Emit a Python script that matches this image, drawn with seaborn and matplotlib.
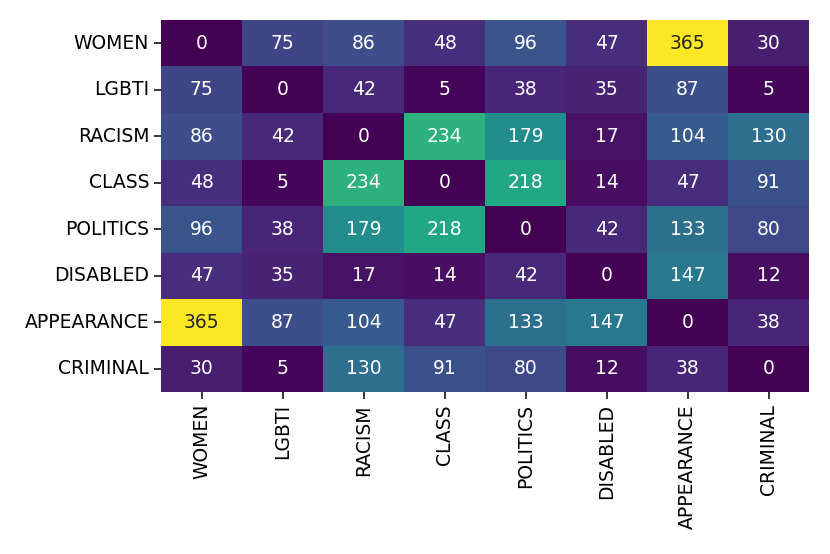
import matplotlib
matplotlib.use("Agg")
import matplotlib.pyplot as plt
import seaborn as sns
import numpy as np
import pandas as pd

categories = ["WOMEN", "LGBTI", "RACISM", "CLASS", "POLITICS", "DISABLED", "APPEARANCE", "CRIMINAL"]
women      = [0, 75, 86, 48, 96, 47, 365, 30]
lgbti      = [75, 0, 42, 5, 38, 35, 87, 5]
racism     = [86, 42, 0, 234, 179, 17, 104, 130]
class_     = [48, 5, 234, 0, 218, 14, 47, 91]
politics   = [96, 38, 179, 218, 0, 42, 133, 80]
disabled   = [47, 35, 17, 14, 42, 0, 147, 12]
appearance = [365, 87, 104, 47, 133, 147, 0, 38]
criminal   = [30, 5, 130, 91, 80, 12, 38, 0]

df = pd.DataFrame([women, lgbti, racism, class_, politics, disabled, appearance, criminal],
                  index=categories, columns=categories)

fig = plt.figure(figsize=(8.3, 5.54), dpi=100)
ax = fig.add_axes([0.194, 0.292, 0.781, 0.672])
sns.heatmap(df, ax=ax, cmap="viridis", annot=True, fmt="d", cbar=False,
            annot_kws={"fontsize": 13.5})
ax.tick_params(axis="both", labelsize=13.5, length=5, width=1.1)
plt.setp(ax.get_xticklabels(), rotation=90)
plt.setp(ax.get_yticklabels(), rotation=0)
fig.savefig("out.png", dpi=100)
